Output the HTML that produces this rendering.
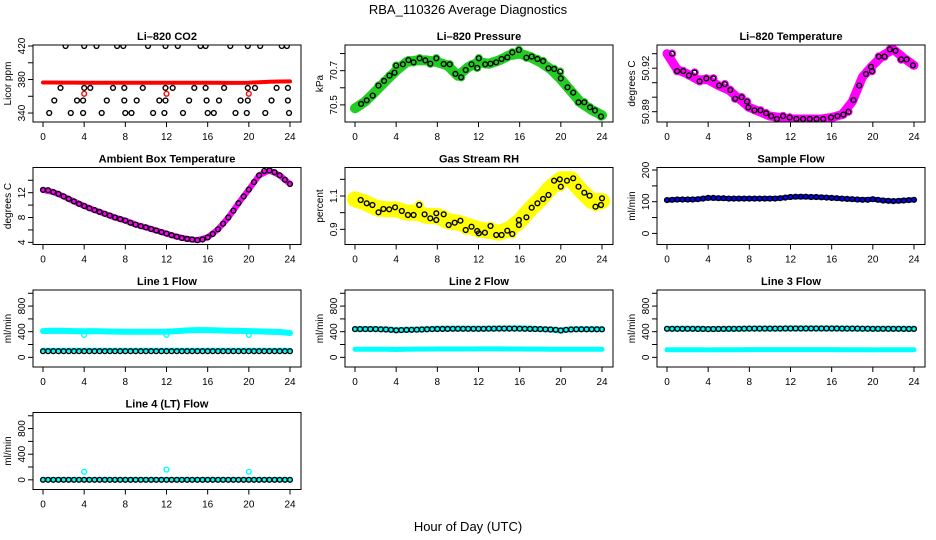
<!DOCTYPE html>
<html><head><meta charset="utf-8"><title>RBA_110326 Average Diagnostics</title>
<style>
html,body{margin:0;padding:0;background:#fff;}
svg{display:block;font-family:"Liberation Sans",Arial,sans-serif;}
</style></head>
<body>
<svg id="chart" width="936" height="540" viewBox="0 0 936 540" xmlns="http://www.w3.org/2000/svg">
<rect x="0" y="0" width="936" height="540" fill="#fff"/>
<text x="468" y="14" font-size="13" text-anchor="middle">RBA_110326  Average Diagnostics</text>
<text x="468" y="531" font-size="13" text-anchor="middle">Hour of Day (UTC)</text>
</svg>
<script>
// ---------- data ----------
const hourTicks = [0,4,8,12,16,20,24];
const hourly = [0,1,2,3,4,5,6,7,8,9,10,11,12,13,14,15,16,17,18,19,20,21,22,23,24];
const halfHours = [0,0.5,1,1.5,2,2.5,3,3.5,4,4.5,5,5.5,6,6.5,7,7.5,8,8.5,9,9.5,10,10.5,11,11.5,12,12.5,13,13.5,14,14.5,15,15.5,16,16.5,17,17.5,18,18.5,19,19.5,20,20.5,21,21.5,22,22.5,23,23.5,24];

// CO2
const co2BlackHours = [2.2,4.0,5.2,7.2,7.8,10.2,11.9,13.1,15.3,15.8,18.2,19.9,21.1,23.2,23.7, 1.7,4.0,4.6,6.8,7.9,9.7,11.9,12.6,14.7,15.8,17.6,19.9,20.6,22.7,23.8, 1.1,3.3,3.9,6.2,7.9,9.1,11.3,11.9,14.2,15.9,17.1,19.2,19.9,22.2,23.8, 0.6,2.7,3.9,5.7,8.0,8.6,10.7,11.8,13.6,16.0,16.6,18.7,19.8,21.6,23.9];
const co2BlackVals = [420,420,420,420,420,420,420,420,420,420,420,420,420,420,420, 370,370,370,370,370,370,370,370,370,370,370,370,370,370,370, 355,355,355,355,355,355,355,355,355,355,355,355,355,355,355, 340,340,340,340,340,340,340,340,340,340,340,340,340,340,340];
const co2RedVals = [376.5,376.4,376.3,376.3,376.2,376.2,376.2,376.2,376.2,376.2,376.2,376.2,376.2,376.2,376.2,376.2,376.2,376.1,376.0,376.0,376.2,376.8,377.3,377.6,377.8];
const co2OutHours = [4,12,20];
const co2OutVals = [363,363,363];

// Pressure
const presHours = [0.59,1.14,1.72,2.28,2.83,3.35,3.84,4.0,4.65,5.2,5.69,6.28,6.83,7.32,7.9,8.62,9.2,9.76,10.31,10.76,11.32,11.87,12.03,12.65,13.17,13.72,14.24,14.8,15.28,15.93,16.65,17.17,17.72,18.28,18.8,19.35,19.93,20.0,20.65,21.2,21.72,22.28,22.83,23.32,23.9];
const presVals = [70.506,70.527,70.554,70.613,70.640,70.671,70.688,70.729,70.737,70.762,70.749,70.772,70.760,70.741,70.772,70.739,70.737,70.681,70.661,70.704,70.737,70.717,70.772,70.737,70.741,70.749,70.768,70.778,70.807,70.821,70.776,70.782,70.768,70.756,70.714,70.710,70.694,70.655,70.603,70.572,70.515,70.515,70.486,70.467,70.432];
const presGreen = [70.48,70.52,70.58,70.64,70.70,70.75,70.76,70.76,70.75,70.73,70.67,70.72,70.75,70.74,70.76,70.79,70.80,70.78,70.75,70.71,70.65,70.58,70.51,70.47,70.44];

// Li-820 temperature
const ltHours = [0.49,0.98,1.57,2.13,2.68,3.17,3.82,4.5,5.06,5.62,6.14,6.63,7.25,7.77,7.9,8.49,9.08,9.63,10.12,10.68,11.27,11.92,12.57,13.22,13.88,14.53,15.18,15.94,16.56,17.14,17.63,18.12,18.68,19.33,19.82,19.91,20.58,21.13,21.65,22.2,22.76,23.28,23.9];
const ltVals = [50.930,50.918,50.918,50.915,50.917,50.911,50.913,50.913,50.908,50.909,50.905,50.899,50.900,50.897,50.893,50.891,50.891,50.889,50.887,50.885,50.887,50.886,50.885,50.885,50.885,50.885,50.885,50.886,50.887,50.888,50.890,50.898,50.908,50.916,50.921,50.918,50.928,50.928,50.933,50.932,50.926,50.926,50.922];
const ltMagenta = [50.930,50.919,50.916,50.912,50.912,50.908,50.905,50.899,50.893,50.890,50.887,50.886,50.885,50.885,50.885,50.885,50.886,50.888,50.897,50.914,50.922,50.929,50.933,50.927,50.922];

// Ambient box temperature
const ambBlack = [12.45,12.4,12.1,11.8,11.4,11.0,10.6,10.2,9.85,9.5,9.2,8.9,8.6,8.3,8.0,7.75,7.5,7.15,6.85,6.6,6.4,6.15,5.9,5.65,5.4,5.15,4.9,4.7,4.55,4.45,4.35,4.45,4.8,5.35,6.1,7.0,8.0,9.1,10.3,11.4,12.5,13.7,14.8,15.5,15.6,15.3,14.8,14.1,13.4];
const ambMagenta = [12.45,12.1,11.4,10.6,9.85,9.2,8.6,8.0,7.5,6.85,6.4,5.9,5.4,4.9,4.55,4.35,4.8,6.1,8.0,10.3,12.5,14.8,15.6,14.8,13.4];

// Gas stream RH
const rhHours = [0.55,1.14,1.69,2.28,2.76,3.32,3.9,4.55,5.14,5.69,6.24,6.76,7.32,7.9,7.9,8.62,9.1,9.69,10.24,10.76,11.32,11.87,12.03,12.62,13.17,13.72,14.24,14.8,15.28,15.93,15.93,16.65,17.17,17.72,18.28,18.8,19.35,19.9,20.0,20.6,21.2,21.72,22.28,22.8,23.37,23.9,24.0];
const rhVals = [1.076,1.056,1.046,1.002,1.022,1.02,1.032,1.01,0.986,0.986,1.046,0.99,0.966,0.996,0.956,0.99,0.926,0.94,0.952,0.896,0.916,0.89,0.876,0.88,0.92,0.866,0.866,0.892,0.872,0.926,0.956,0.972,1.03,1.056,1.082,1.106,1.192,1.2,1.156,1.192,1.206,1.156,1.12,1.102,1.036,1.046,1.086];
const rhYellow = [1.08,1.06,1.03,1.02,1.02,1.0,1.0,0.98,0.98,0.95,0.94,0.92,0.9,0.89,0.88,0.9,0.95,1.02,1.08,1.15,1.2,1.2,1.13,1.07,1.07];

// Sample flow
const sfBlue = [105,107,107,108,112,111,110,110,110,110,110,111,115,116,115,114,112,110,108,106,108,104,102,104,106];
const sfBlack = [105,106,107,107,107,107,108,110,112,112,111,111,110,110,110,110,110,110,110,110,110,110,111,113,115,116,116,116,115,115,114,113,112,111,110,109,108,107,106,106,108,106,104,103,102,103,104,105,106];

// Line flows
const l1Upper = [410,415,412,410,408,410,405,402,400,398,398,400,402,410,420,425,425,420,415,412,410,405,400,395,380];
const l1Lower = [112,112,112,112,112,112,112,112,112,112,112,112,112,112,112,112,112,112,112,112,112,112,112,112,112];
const l1Black = [95,95,95,95,95,95,95,95,95,95,95,95,95,95,95,95,95,95,95,95,95,95,95,95,95,95,95,95,95,95,95,95,95,95,95,95,95,95,95,95,95,95,95,95,95,95,95,95,95];
const l1OutHours = [4,12,20];
const l1OutVals = [350,350,350];

const l2Upper = [440,442,440,438,425,432,435,440,445,448,448,448,445,448,450,450,452,448,440,435,420,438,440,440,438];
const l2Lower = [125,125,125,125,122,125,128,128,130,130,130,130,132,132,132,130,130,128,128,126,125,125,126,126,126];
const l2Black = [440,440,440,440,440,438,435,430,422,425,428,430,432,435,438,440,442,443,444,445,445,445,446,446,446,446,447,447,448,448,448,448,447,446,444,442,440,438,435,430,418,430,435,437,438,438,438,438,438];

const l3Upper = [445,447,446,445,440,442,444,446,448,448,449,449,450,450,450,450,450,449,448,447,446,446,445,445,444];
const l3Lower = [118,118,118,118,116,118,118,118,120,120,120,120,120,120,120,120,120,118,118,118,116,118,118,118,118];
const l3Black = [445,445,445,445,445,445,444,443,440,442,443,444,445,446,446,447,448,448,448,449,449,449,449,450,450,450,450,450,450,450,450,450,450,450,449,449,448,448,447,447,446,446,446,445,445,445,444,444,444];

const l4Black = [0,0,0,0,0,0,0,0,0,0,0,0,0,0,0,0,0,0,0,0,0,0,0,0,0,0,0,0,0,0,0,0,0,0,0,0,0,0,0,0,0,0,0,0,0,0,0,0,0];
const l4Cyan = [5,3,3,3,3,3,3,3,3,3,3,3,3,3,3,3,3,3,3,3,3,3,3,3,3];
const l4OutHours = [4,12,20];
const l4OutVals = [125,160,125];

// ---------- drawing ----------
const NS = 'http://www.w3.org/2000/svg';
const svg = document.getElementById('chart');
function mk(tag, attrs, parent){
  const e = document.createElementNS(NS, tag);
  for (const k in attrs) e.setAttribute(k, attrs[k]);
  (parent||svg).appendChild(e);
  return e;
}
function panel(name, col, row, title, ylab, ylim, ticks, labels){
  const left = 33 + 312*col, right = 301 + 312*col;
  const top = 45 + 122.5*row, bot = 122 + 122.5*row;
  const x0 = 43 + 312*col, xs = 247/24;
  const g = mk('g', {});
  
  
  const sx = h => x0 + h*xs;
  const sy = v => bot - (v - ylim[0])/(ylim[1]-ylim[0])*(bot-top);
  const clip = mk('clipPath', {id: 'clip-' + name}, g);
  mk('rect', {x: left, y: top, width: right-left, height: bot-top}, clip);
  const plot = mk('g', {'clip-path': 'url(#clip-' + name + ')'}, g);
  
  
  const box = mk('rect', {x: left, y: top, width: right-left, height: bot-top, fill: 'none', stroke: '#000', 'stroke-width': 1}, g);
  
  
  const t = mk('text', {x: (left+right)/2, y: top-5, 'font-size': 11, 'font-weight': 'bold', 'text-anchor': 'middle'}, g);
  
  
  t.textContent = title;
  const yl = mk('text', {x: 0, y: 0, 'font-size': 10, 'text-anchor': 'middle', transform: 'translate(' + (left-22) + ',' + ((top+bot)/2) + ') rotate(-90)'}, g);
  
  
  yl.textContent = ylab;
  // x axis
  mk('line', {x1: sx(0), x2: sx(24), y1: bot, y2: bot, stroke: '#000'}, g);
  hourTicks.forEach(h => {
    mk('line', {x1: sx(h), x2: sx(h), y1: bot, y2: bot+5, stroke: '#000'}, g);
    const tl = mk('text', {x: sx(h), y: bot+18, 'font-size': 10, 'text-anchor': 'middle'}, g);
    
    
    tl.textContent = h;
  });
  // y axis
  mk('line', {x1: left, x2: left, y1: sy(ticks[0]), y2: sy(ticks[ticks.length-1]), stroke: '#000'}, g);
  ticks.forEach((v, i) => {
    const y = sy(v);
    mk('line', {x1: left-5, x2: left, y1: y, y2: y, stroke: '#000'}, g);
    if (labels[i] !== '') {
      const tl = mk('text', {x: 0, y: 0, 'font-size': 10, 'text-anchor': 'middle', transform: 'translate(' + (left-8) + ',' + y + ') rotate(-90)'}, g);
      
      
      tl.textContent = labels[i];
    }
  });
  return {sx, sy, g: plot, name};
}
function band(p, hours, vals, color, w){
  const pts = hours.map((h, i) => p.sx(h).toFixed(1) + ',' + p.sy(vals[i]).toFixed(1)).join(' ');
  const pl = mk('polyline', {points: pts, fill: 'none', stroke: color, 'stroke-width': w, 'stroke-linejoin': 'round', 'stroke-linecap': 'round'}, p.g);
  
  
}
function dots(p, hours, vals, color, r){
  hours.forEach((h, i) => {
    const c = mk('circle', {cx: p.sx(h).toFixed(1), cy: p.sy(vals[i]).toFixed(1), r: r||2.4, fill: 'none', stroke: color, 'stroke-width': 1.4}, p.g);
    
    
  });
}

const flowTicks = [0,200,400,600,800,1000];
const flowLabels = ['0','','400','','800',''];
const flowLim = [-151,1051];

// Li-820 CO2
let p = panel('co2', 0, 0, 'Li\u2013820 CO2', 'Licor ppm', [329.3,421.2], [340,360,380,400,420], ['340','','380','','420']);
band(p, hourly, co2RedVals, '#ff0000', 4);
dots(p, co2OutHours, co2OutVals, '#ff0000');
dots(p, co2BlackHours, co2BlackVals, '#000');

// Pressure
p = panel('pressure', 1, 0, 'Li\u2013820 Pressure', 'kPa', [70.40,70.85], [70.5,70.6,70.7,70.8], ['70.5','','70.7','']);
band(p, hourly, presGreen, '#22cc22', 10);
dots(p, presHours, presVals, '#22cc22', 3.5);
dots(p, presHours, presVals, '#000');

// Li-820 temperature
p = panel('li820-temp', 2, 0, 'Li\u2013820 Temperature', 'degrees C', [50.8829,50.936], [50.89,50.90,50.91,50.92,50.93], ['50.89','','','50.92','']);
band(p, hourly, ltMagenta, '#ff00ff', 9);
dots(p, ltHours, ltVals, '#ff00ff', 3.5);
dots(p, ltHours, ltVals, '#000');

// Ambient box temperature
p = panel('ambient-temp', 0, 1, 'Ambient Box Temperature', 'degrees C', [3.65,16.06], [4,6,8,10,12,14], ['4','','8','','12','']);
band(p, hourly, ambMagenta, '#ff00ff', 6);
dots(p, halfHours, ambBlack, '#000');

// Gas stream RH
p = panel('gas-rh', 1, 1, 'Gas Stream RH', 'percent', [0.809,1.271], [0.9,1.0,1.1,1.2], ['0.9','','1.1','']);
band(p, hourly, rhYellow, '#ffff00', 16);
dots(p, rhHours, rhVals, '#ffff00', 4);
dots(p, rhHours, rhVals, '#000');

// Sample flow
p = panel('sample-flow', 2, 1, 'Sample Flow', 'ml/min', [-35,208], [0,50,100,150,200], ['0','','100','','200']);
band(p, hourly, sfBlue, '#0000ff', 5);
dots(p, halfHours, sfBlack, '#000');

// Line 1
p = panel('line1-flow', 0, 2, 'Line 1 Flow', 'ml/min', flowLim, flowTicks, flowLabels);
band(p, hourly, l1Upper, '#00ffff', 6);
band(p, hourly, l1Lower, '#00ffff', 5);
dots(p, l1OutHours, l1OutVals, '#00ffff');
dots(p, halfHours, l1Black, '#000');

// Line 2
p = panel('line2-flow', 1, 2, 'Line 2 Flow', 'ml/min', flowLim, flowTicks, flowLabels);
band(p, hourly, l2Upper, '#00ffff', 6);
band(p, hourly, l2Lower, '#00ffff', 5);
dots(p, halfHours, l2Black, '#000');

// Line 3
p = panel('line3-flow', 2, 2, 'Line 3 Flow', 'ml/min', flowLim, flowTicks, flowLabels);
band(p, hourly, l3Upper, '#00ffff', 6);
band(p, hourly, l3Lower, '#00ffff', 5);
dots(p, halfHours, l3Black, '#000');

// Line 4
p = panel('line4-flow', 0, 3, 'Line 4 (LT) Flow', 'ml/min', flowLim, flowTicks, flowLabels);
band(p, hourly, l4Cyan, '#00ffff', 5);
dots(p, l4OutHours, l4OutVals, '#00ffff');
dots(p, halfHours, l4Black, '#000');
</script>
</body></html>
